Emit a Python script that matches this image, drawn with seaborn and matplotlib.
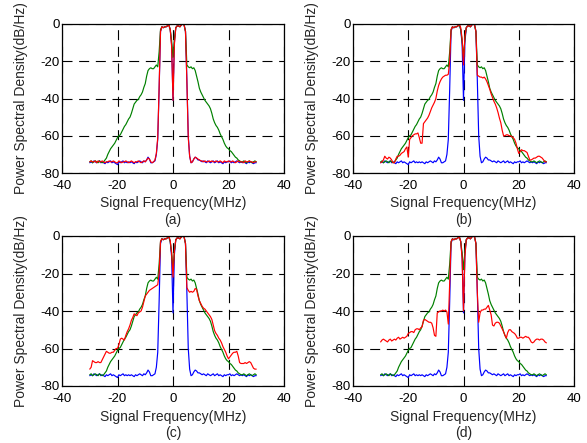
import numpy as np
import matplotlib
matplotlib.use('Agg')
import matplotlib.pyplot as plt
import seaborn as sns

# PSD traces sampled every 0.5 MHz from -30 to 30 MHz (121 points each)
freq = np.arange(-30, 30.5, 0.5)

blue_psd = [
  -74.5, -74, -74.5, -73.5, -74, -74.5, -74, -73.5, -74.5, -74,
  -74.5, -75, -74, -74.5, -74, -73.5, -74.5, -74, -74.5, -75,
  -75.5, -74, -74.5, -74, -73.5, -74.5, -74, -74.5, -74, -74.5,
  -74, -74.5, -75, -74, -74.5, -74, -73.5, -74, -74.5, -73.5,
  -74, -73, -71.5, -72.5, -74.5, -74.5, -74, -73.5, -70, -62,
  -35, -4, -1.5, -2, -1.5, -1.5, -1, -0.5, -3, -11,
  -41, -10, -2, -1, -1, -1.5, -0.5, 0, -0.5, -4,
  -30, -60, -71, -74.5, -74, -72.5, -71.5, -72, -73, -73,
  -73.5, -74, -73.5, -74, -74.5, -73.5, -74, -74.5, -74, -73.5,
  -74.5, -74, -73.5, -74.5, -74, -74.5, -75, -74, -74.5, -74,
  -74, -73.5, -74.5, -74, -74.5, -74, -73.5, -74, -74.5, -74,
  -74.5, -74, -74.5, -75, -74, -74.5, -74, -74.5, -75, -74.5,
  -74.5]

green_psd = [
  -74, -73.5, -74.5, -74, -73.5, -74, -74.5, -73.5, -74, -74.5,
  -74, -73, -72, -70, -68.5, -67, -66, -65, -64, -62.5,
  -61, -60, -59.5, -58, -56.5, -55, -54, -52.5, -51, -50,
  -48, -45.5, -43, -42, -41, -40.5, -39, -38, -36.5, -34,
  -32, -28, -25, -24, -23.5, -24, -24, -23, -22, -23,
  -15, -3, -1.5, -2, -1.5, -1.5, -1, -0.5, -3, -9,
  -18, -8, -2, -1, -1, -1.5, -0.5, 0, -0.5, -4,
  -22, -23, -23.5, -23, -24, -23.5, -25, -28, -31, -34.5,
  -36.5, -38, -39.5, -41, -42, -43, -44, -45.5, -48, -51,
  -53, -54.5, -55.5, -57, -59, -60.5, -62, -64, -65.5, -66.5,
  -67, -68, -68.5, -69.5, -70.5, -71.5, -72, -73, -73.5, -74,
  -74, -73.5, -74, -74.5, -74, -73.5, -74, -74.5, -74, -73.5,
  -74]

red_a = [
  -74, -73.5, -74, -74, -73.5, -74.5, -73.5, -74, -74, -73.5,
  -74, -74.5, -74, -74, -73.5, -74, -74, -73.5, -74, -74.5,
  -74.5, -73.5, -74, -74.5, -74, -74, -73.5, -74, -74.5, -74,
  -73.5, -74, -74.5, -74, -74, -73.5, -74, -74.5, -74, -73.5,
  -74, -73, -72, -72.5, -74, -74.5, -74, -73, -69.5, -61,
  -34, -4, -1.5, -2, -1.5, -1.5, -1, -0.5, -3, -12,
  -41, -11, -2, -1, -1, -1.5, -0.5, 0, -0.5, -4,
  -31, -61, -71, -74.5, -74, -72.5, -71.5, -72, -72.5, -73,
  -73.5, -73.5, -74, -73.5, -74, -74, -73.5, -74, -73.5, -74,
  -74, -73.5, -74, -74, -73.5, -74, -74.5, -73.5, -74, -74,
  -73.5, -74, -74, -73.5, -74, -74.5, -74, -73.5, -74, -74,
  -74, -74.5, -73.5, -74, -74, -73.5, -74, -74, -74.5, -74,
  -74]

red_b = [
  -74.5, -74, -73, -71, -72, -72.5, -71.5, -72, -73, -74.5,
  -74.5, -72.5, -71, -71, -70.5, -69.5, -69, -68.5, -67, -66,
  -71.5, -62, -61, -60, -59.5, -59, -59, -58.5, -61, -64,
  -64, -53.5, -52.5, -51.5, -50.5, -49, -47, -45, -43.5, -42,
  -40, -36, -33, -31, -29.5, -28.5, -28, -27.5, -27.5, -27,
  -20, -3, -1.5, -2, -1.5, -1.5, -1, 0, -2, -8,
  -22, -7, -2, -1, -1, -1.5, -0.5, 0, -0.5, -4,
  -27.5, -28, -28.5, -28.5, -29, -28.5, -29.5, -31, -33, -35,
  -37.5, -39.5, -41.5, -43, -45, -47.5, -50.5, -53, -57, -60,
  -60, -59.5, -59.5, -60, -60, -60.5, -61, -62, -64, -67,
  -69.5, -68.5, -67.5, -68, -68, -68.5, -69, -71, -73, -73,
  -72.5, -72, -72, -71.5, -71, -71, -71.5, -72, -73, -74,
  -74]

red_c = [
  -71, -70, -66.5, -67, -67.5, -67.5, -67, -67.5, -67.5, -66,
  -64.5, -63, -61.5, -62, -62.5, -62.5, -62, -62, -61, -60,
  -60, -58, -55, -54.5, -55, -55.5, -53, -51, -49.5, -47.5,
  -45, -43.5, -41.5, -42, -42.5, -41, -40.5, -40, -38, -35,
  -32, -31, -30, -29, -28.5, -28, -27.5, -27, -26.5, -26,
  -20, -3, -1.5, -2, -1.5, -1.5, -1, 0, -2.5, -9,
  -22, -8, -2, -1, -1, -1.5, -0.5, 0, -0.5, -4,
  -27.5, -29, -30, -29.5, -30, -29.5, -28, -28.5, -32, -34.5,
  -36, -37.5, -38.5, -39, -40, -41, -42, -43, -44.5, -47.5,
  -50.5, -52, -53, -54.5, -55.5, -57, -59, -60.5, -62, -64,
  -65.5, -64.5, -63.5, -62.5, -62, -62, -61.5, -64, -67.5, -68,
  -68, -68, -67.5, -68, -67.5, -67, -67.5, -69, -70.5, -71,
  -71]

red_d = [
  -56.5, -55.5, -55, -55.5, -56, -56.5, -55.5, -55, -56, -55.5,
  -55, -55.5, -54.5, -54, -55, -54.5, -54, -54.5, -54, -53.5,
  -52, -51.5, -51, -51, -51.5, -50, -49.5, -49.5, -50, -49,
  -48.5, -45, -44.5, -45, -45.5, -46, -46, -46.5, -49, -53,
  -53.5, -41, -40.5, -40, -40, -39.5, -40, -39.5, -40.5, -47,
  -25, -3, -1.5, -2, -1.5, -1.5, -1, -0.5, -3, -12,
  -40, -11, -2, -1, -1, -1.5, -0.5, 0, -0.5, -4,
  -30, -46, -41, -39.5, -39.5, -39, -39, -38, -37, -39.5,
  -42, -47.5, -48, -46.5, -46, -46, -46.5, -48, -49.5, -51,
  -53, -54.5, -51.5, -50, -50, -51, -51.5, -52, -53, -54.5,
  -54.5, -54, -54, -54.5, -54, -53.5, -54, -54, -55, -56.5,
  -57, -56.5, -55.5, -55, -55, -55.5, -55, -55, -55.5, -56.5,
  -57]

red_traces = {'a': red_a, 'b': red_b, 'c': red_c, 'd': red_d}

x_ticks = [-40, -20, 0, 20, 40]
y_ticks = [-80, -60, -40, -20, 0]

sns.set_style('white')
plt.rcParams['font.family'] = ['Liberation Sans', 'DejaVu Sans']
plt.rcParams['axes.unicode_minus'] = False

W, H = 587, 443
fig = plt.figure(figsize=(W / 100, H / 100), dpi=100)

# axes boxes in pixels: left, top, right, bottom
boxes = {'a': (62, 24, 284, 173), 'b': (353, 24, 574, 173),
         'c': (62, 236, 284, 386), 'd': (353, 236, 574, 386)}

for key, (l, t, r, b) in boxes.items():
  ax = fig.add_axes([l / W, 1 - b / H, (r - l) / W, (b - t) / H])
  hgt = b - t
  sns.lineplot(x=freq, y=blue_psd, color='#0000ff', lw=0.85, ax=ax)
  sns.lineplot(x=freq, y=green_psd, color='#008000', lw=0.85, ax=ax)
  sns.lineplot(x=freq, y=red_traces[key], color='#ff0000', lw=0.85, ax=ax)

  ax.set_xlim(-40, 40)
  ax.set_ylim(-80, 0)
  ax.set_xticks(x_ticks)
  ax.set_yticks(y_ticks)
  ax.grid(True, color='k', linestyle=(0, (9, 6)), linewidth=0.8)
  ax.set_axisbelow(True)
  for s in ax.spines.values():
    s.set_color('k')
    s.set_linewidth(0.9)
  ax.tick_params(axis='both', direction='in', length=3, labelsize=9.5, colors='k')
  ax.tick_params(axis='x', pad=5)
  ax.tick_params(axis='y', pad=1.5)

  ax.set_xlabel('Signal Frequency(MHz)', fontsize=10, va='center')
  ax.xaxis.set_label_coords(0.5, -30.5 / hgt)
  ax.set_ylabel('Power Spectral Density(dB/Hz)', fontsize=10, va='center')
  ax.yaxis.set_label_coords(-41 / (r - l), 0.5)
  ax.text(0.5, -47 / hgt, f'({key})', transform=ax.transAxes,
          ha='center', va='center', fontsize=10)

fig.savefig('out.png', dpi=100)
